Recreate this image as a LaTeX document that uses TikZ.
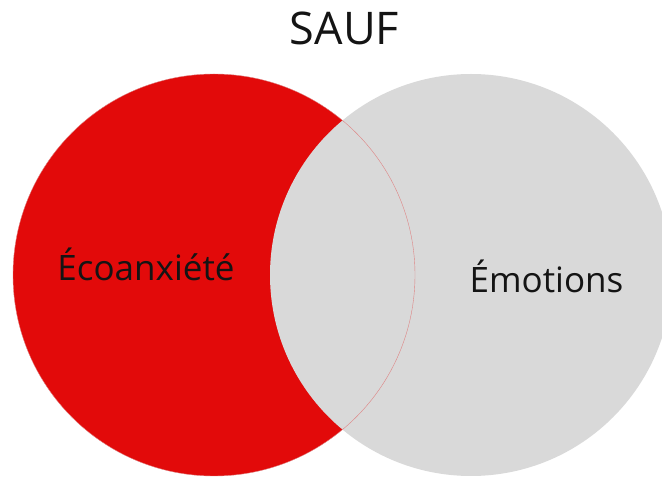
\documentclass[tikz,border=0pt]{standalone}
\usepackage{fontspec}
\setmainfont{Open Sans}
\definecolor{ecored}{RGB}{226,10,10}
\definecolor{emogray}{RGB}{217,217,217}
\definecolor{ecoline}{RGB}{222,130,130}
\definecolor{txt}{RGB}{20,20,20}

\begin{document}
\begin{tikzpicture}[x=1pt,y=1pt,
    lbl/.style={anchor=base,inner sep=0pt,text=txt,font=\fontsize{35}{42}\selectfont}]
      \useasboundingbox (0,0) rectangle (662,477);
      \clip (0,0) rectangle (662,477);
      \fill[ecored] (214,202) circle (201pt);
      \fill[emogray] (471,202) circle (201pt);
      %\fill[emogray] (471,202) circle (180pt);
      \draw[ecoline,line width=0.4pt] (214,202) circle (201pt);
      \node[lbl,font=\fontsize{45}{54}\selectfont] (sauf) at (344.5,432) {SAUF};
      \node[lbl] (eco) at (146,196) {Écoanxiété};
      \node[lbl] (emo) at (546.5,184) {Émotions};
    \end{tikzpicture}
\end{document}
